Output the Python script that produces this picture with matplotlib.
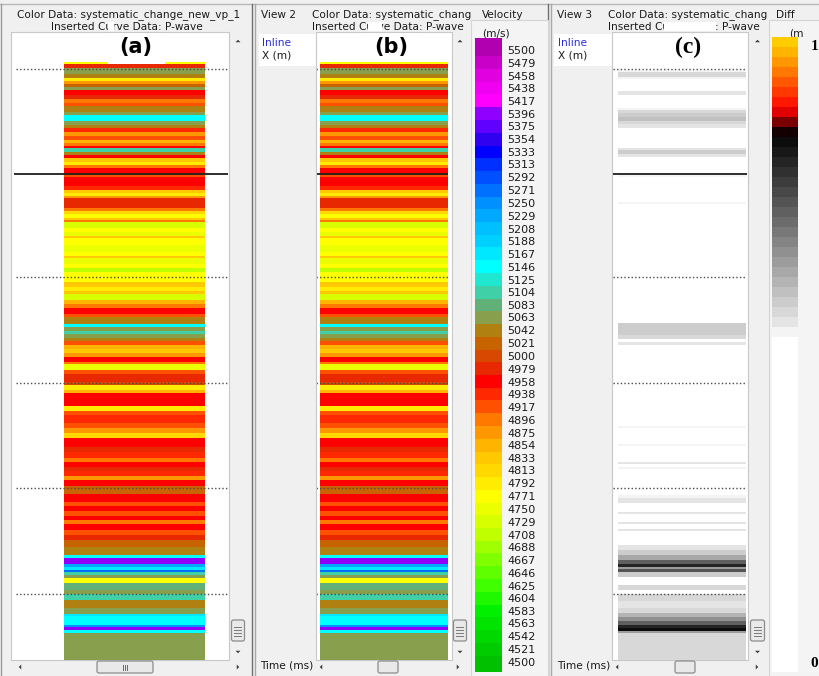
import numpy as np
import matplotlib
matplotlib.use("Agg")
import matplotlib.pyplot as plt
from matplotlib.colors import ListedColormap, BoundaryNorm
from matplotlib.patches import Rectangle, FancyBboxPatch, Polygon

# ---------------- data ----------------
# velocity colour scale (bottom -> top)
vel_tick_labels = ["4500", "4521", "4542", "4563", "4583", "4604", "4625", "4646", "4667",
                   "4688", "4708", "4729", "4750", "4771", "4792", "4813", "4833", "4854",
                   "4875", "4896", "4917", "4938", "4958", "4979", "5000", "5021", "5042",
                   "5063", "5083", "5104", "5125", "5146", "5167", "5188", "5208", "5229",
                   "5250", "5271", "5292", "5313", "5333", "5354", "5375", "5396", "5417",
                   "5438", "5458", "5479", "5500"]
vel_colors = ["#00C000", "#00CC00", "#00D800", "#00E400", "#00F000", "#20F800", "#40FF00",
              "#60FF00", "#80FF00", "#A0FF00", "#C0FF00", "#D8FF00", "#ECFF00", "#FFFF00",
              "#FFEC00", "#FFD800", "#FFC800", "#FFB400", "#FF9800", "#FF7800", "#FF5000",
              "#FF2800", "#FF0000", "#E82800", "#D84800", "#C86400", "#B08010", "#88A04E",
              "#60B078", "#40D0A8", "#20E8D0", "#00FFFF", "#00E8FF", "#00D0FF", "#00C0FF",
              "#00A8FF", "#0090FF", "#0070FF", "#0050FF", "#0030FF", "#0000FF", "#3000F0",
              "#6000FF", "#9000FF", "#FF00FF", "#F000F0", "#E000E0", "#C800C8", "#B000B0"]

# velocity log: layer boundaries (time) and P-wave velocity (m/s)
layer_bounds = [62, 64, 68, 74, 78, 81, 84, 87, 90, 95, 99, 103, 106, 112, 115, 121, 125, 128,
                132, 136, 140, 143, 146, 148, 152, 155, 158, 162, 165, 168, 173, 177, 186, 190,
                193, 196, 198, 208, 211, 214, 218, 220, 222, 228, 232, 236, 238, 245, 252, 256,
                258, 264, 268, 272, 276, 282, 287, 291, 294, 300, 304, 308, 314, 317, 324, 327,
                331, 334, 338, 341, 345, 349, 353, 357, 362, 364, 370, 374, 382, 385, 390, 393,
                400, 406, 411, 415, 423, 428, 433, 438, 447, 452, 458, 462, 467, 471, 476, 480,
                486, 494, 502, 506, 511, 516, 520, 524, 530, 535, 540, 547, 555, 558, 564, 567,
                570, 572, 575, 578, 583, 590, 594, 600, 608, 614, 616, 625, 627, 630, 633, 660]
layer_vp = [4771, 4979, 5063, 5042, 4792, 4875, 5021, 5063, 4958, 4979, 4896, 4917, 5042, 5063,
            5146, 5063, 5042, 4938, 4875, 4917, 4854, 4896, 4958, 5104, 5042, 4958, 4833, 4792,
            4896, 4958, 4917, 4958, 4938, 4833, 4792, 4875, 4979, 4896, 4813, 4771, 4833, 4896,
            4729, 4771, 4750, 4833, 4771, 4750, 4771, 4833, 4750, 4771, 4708, 4771, 4771, 4833,
            4792, 4833, 4729, 4854, 4896, 4958, 4917, 5042, 5146, 5063, 5104, 5063, 5042, 4917,
            4854, 4833, 4875, 4958, 4896, 4750, 4917, 4979, 5000, 4792, 4854, 4958, 4958, 4792,
            4917, 4938, 4917, 4875, 4813, 4958, 4979, 4938, 4896, 4958, 4979, 4938, 4875, 4958,
            5021, 4958, 4917, 4958, 4917, 4958, 4896, 4958, 4917, 4979, 5021, 5042, 5146, 5396,
            5229, 5167, 5271, 5104, 5063, 4771, 5083, 5063, 5104, 5042, 5063, 5167, 5146, 5250,
            5396, 5146, 5063]

# difference scale (value 0..1), colours for upper part; lower part is white
diff_tick_labels = ["0", "1"]
diff_colors = ["#F4F4F4", "#E4E4E4", "#D8D8D8", "#CCCCCC", "#C0C0C0", "#B4B4B4", "#A8A8A8",
               "#9C9C9C", "#909090", "#848484", "#787878", "#6C6C6C", "#606060", "#545454",
               "#484848", "#3C3C3C", "#303030", "#242424", "#181818", "#0C0C0C", "#140000",
               "#7A0000", "#E00000", "#FF1800", "#FF3800", "#FF5800", "#FF7800", "#FF9800",
               "#FFB400", "#FFCC00"]
diff_white_top = 0.527

diff_bounds = [62, 70, 72, 77, 79, 91, 95, 108, 110, 113, 117, 121, 124, 128, 148, 150, 154, 157,
               175, 177, 202, 204, 323, 335, 339, 342, 345, 426, 428, 444, 446, 462, 464, 467,
               469, 495, 498, 503, 512, 514, 522, 524, 529, 531, 545, 550, 555, 560, 564, 567,
               569, 572, 577, 585, 590, 594, 601, 608, 613, 617, 621, 625, 628, 631, 633, 660]
diff_vals = [0.0, 0.535, 0.56, 0.535, 0.0, 0.55, 0.0, 0.535, 0.567, 0.583, 0.598, 0.567,
             0.551, 0.0, 0.551, 0.583, 0.551, 0.0, 0.535, 0.0, 0.535, 0.0, 0.583, 0.567, 0.0,
             0.551, 0.0, 0.535, 0.0, 0.535, 0.0, 0.545, 0.0, 0.535, 0.0, 0.535, 0.551, 0.0,
             0.551, 0.0, 0.551, 0.0, 0.551, 0.0, 0.551, 0.583, 0.63, 0.73, 0.80, 0.65, 0.74,
             0.583, 0.0, 0.567, 0.0, 0.567, 0.551, 0.567, 0.614, 0.661, 0.72, 0.80, 0.835,
             0.65, 0.567]

marker_times = [69, 277, 383, 488, 594]
horizon_time = 174

# ---------------- figure ----------------
W, H = 820, 676
fig = plt.figure(figsize=(8.2, 6.76), dpi=100)
fig.patch.set_facecolor('#F0F0F0')


def px_axes(x0, y0, x1, y1, z=1):
    return fig.add_axes([x0 / W, 1 - y1 / H, (x1 - x0) / W, (y1 - y0) / H], zorder=z)


ui = px_axes(0, 0, W, H, z=0)
ui.set_xlim(0, W); ui.set_ylim(H, 0); ui.axis('off')
ov = px_axes(0, 0, W, H, z=5)
ov.set_xlim(0, W); ov.set_ylim(H, 0); ov.axis('off')

UIF = dict(fontsize=7.6, family='DejaVu Sans', color='#1A1A1A')


def rect(ax, x0, y0, x1, y1, fc, ec='none', lw=0.8, z=1):
    ax.add_patch(Rectangle((x0, y0), x1 - x0, y1 - y0, facecolor=fc, edgecolor=ec, lw=lw, zorder=z))


def tri(ax, cx, cy, d, s=3.0, c='#404040'):
    if d == 'up':
        pts = [(cx - s, cy + s / 2), (cx + s, cy + s / 2), (cx, cy - s / 2)]
    elif d == 'down':
        pts = [(cx - s, cy - s / 2), (cx + s, cy - s / 2), (cx, cy + s / 2)]
    elif d == 'left':
        pts = [(cx + s / 2, cy - s), (cx + s / 2, cy + s), (cx - s / 2, cy)]
    else:
        pts = [(cx - s / 2, cy - s), (cx - s / 2, cy + s), (cx + s / 2, cy)]
    ax.add_patch(Polygon(pts, closed=True, facecolor=c, edgecolor='none', zorder=3))


def vscroll(ax, x0, x1):
    cx = (x0 + x1) / 2
    tri(ax, cx, 41, 'up', 2.5)
    ax.add_patch(FancyBboxPatch((x0 + 1.5, 620), x1 - x0 - 3, 21, boxstyle='round,pad=0,rounding_size=2',
                                facecolor='#E9E9E9', edgecolor='#8C8C8C', lw=0.9, zorder=3))
    for yy in (626.5, 629.5, 632.5, 635.5):
        ax.plot([cx - 3.5, cx + 3.5], [yy, yy], color='#7A7A7A', lw=0.7, zorder=4)
    tri(ax, cx, 652, 'down', 2.5)


def hscroll(ax, xl, xr, t0, t1, grip=False):
    tri(ax, xl, 667, 'left', 2.5)
    tri(ax, xr, 667, 'right', 2.5)
    ax.add_patch(FancyBboxPatch((t0, 661), t1 - t0, 12, boxstyle='round,pad=0,rounding_size=2',
                                facecolor='#E9E9E9', edgecolor='#8C8C8C', lw=0.9, zorder=3))
    if grip:
        c = (t0 + t1) / 2
        for xx in (c - 2, c, c + 2):
            ax.plot([xx, xx], [664.5, 669.5], color='#6A6A6A', lw=0.7, zorder=4)


# frame lines
ui.plot([0, W], [3.5, 3.5], color='#B8B8B8', lw=1)
for xx, c in ((1.5, '#9A9A9A'), (252.5, '#6E6E6E'), (255.5, '#A8A8A8'),
              (548.5, '#6E6E6E'), (551.5, '#A8A8A8')):
    ui.plot([xx, xx], [4, H], color=c, lw=1)

# ---------- panel frames ----------
# panel a
rect(ui, 11, 32, 229, 660, 'white', '#C8C8C8', 0.8)
ui.text(129, 15, "Color Data: systematic_change_new_vp_1", ha='center', va='center', **UIF)
ui.text(127, 27, "Inserted Curve Data: P-wave", ha='center', va='center', **UIF)
vscroll(ui, 230, 246)
hscroll(ui, 20, 238, 97, 153, grip=True)

# panel b
rect(ui, 259, 34, 316, 66, 'white')
ui.text(261, 15, "View 2", ha='left', va='center', **UIF)
ui.text(262, 43, "Inline", ha='left', va='center', fontsize=7.6, color='#2A2AE0')
ui.text(262, 56, "X (m)", ha='left', va='center', **UIF)
ui.text(312, 15, "Color Data: systematic_chang", ha='left', va='center', **UIF)
ui.text(312, 27, "Inserted Curve Data: P-wave", ha='left', va='center', **UIF)
rect(ui, 316, 32, 452, 660, 'white', '#C8C8C8', 0.8)
vscroll(ui, 452, 468)
ui.text(260, 666, "Time (ms)", ha='left', va='center', **UIF)
hscroll(ui, 321, 458, 378, 398)

# panel c
rect(ui, 554, 34, 612, 66, 'white')
ui.text(557, 15, "View 3", ha='left', va='center', **UIF)
ui.text(558, 43, "Inline", ha='left', va='center', fontsize=7.6, color='#2A2AE0')
ui.text(558, 56, "X (m)", ha='left', va='center', **UIF)
ui.text(608, 15, "Color Data: systematic_chang", ha='left', va='center', **UIF)
ui.text(608, 27, "Inserted Curve Data: P-wave", ha='left', va='center', **UIF)
rect(ui, 612, 32, 748, 660, 'white', '#C8C8C8', 0.8)
vscroll(ui, 749, 766)
ui.text(557, 666, "Time (ms)", ha='left', va='center', **UIF)
hscroll(ui, 617, 757, 675, 695)

# colour-bar side panels
rect(ov, 471, 20, 548, H, '#F4F4F4', '#D4D4D4', 0.8)
ov.text(482, 15, "Velocity", ha='left', va='center', **UIF)
ov.text(496, 34, "(m/s)", ha='center', va='center', **UIF)
rect(ov, 769, 20, W, H, '#F4F4F4', '#D4D4D4', 0.8)
ov.text(776, 15, "Diff", ha='left', va='center', **UIF)
ov.text(789, 33, "(m", ha='left', va='center', **UIF)

# label boxes
rect(ov, 108, 33, 165, 64, 'white', z=2)
rect(ov, 108, 22, 114, 31, 'white', z=2)
ov.text(136, 47, "(a)", ha='center', va='center', fontsize=15, fontweight='bold',
        family='DejaVu Sans', color='black', zorder=3)
rect(ov, 368, 22, 382, 31, 'white', z=2)
rect(ov, 362, 33, 420, 62, 'white', z=2)
ov.text(391, 47, "(b)", ha='center', va='center', fontsize=15, fontweight='bold',
        family='DejaVu Sans', color='black', zorder=3)
rect(ov, 664, 22, 716, 31, 'white', z=2)
ov.text(688, 47, "(c)", ha='center', va='center', fontsize=17, fontweight='bold',
        family='Liberation Serif', color='black', zorder=3)

# ---------- colour maps ----------
vel_levels = np.array([int(s) for s in vel_tick_labels], dtype=float)
vel_lo, vel_hi = vel_levels[0] - 16.3, vel_levels[-1] + 19.6
vel_edges = np.concatenate([[vel_lo], (vel_levels[:-1] + vel_levels[1:]) / 2, [vel_hi]])
vel_cmap = ListedColormap(vel_colors)
vel_norm = BoundaryNorm(vel_edges, vel_cmap.N)

n_d = len(diff_colors)
diff_edges = np.concatenate([[0.0], diff_white_top + (1 - diff_white_top) * np.arange(n_d + 1) / n_d])
diff_cmap = ListedColormap(['#FFFFFF'] + diff_colors)
diff_norm = BoundaryNorm(diff_edges, diff_cmap.N)

lb = np.array(layer_bounds, dtype=float)
vp = np.array(layer_vp, dtype=float)
db = np.array(diff_bounds, dtype=float)
dv = np.array(diff_vals, dtype=float)


def log_axes(x0, x1, col0, col1, bounds, vals, cmap, norm, dot0, dot1, hz0, hz1):
    ax = px_axes(x0, 33, x1, 660, z=1)
    ax.set_xlim(x0, x1)
    ax.set_ylim(660, 33)
    ax.pcolormesh([col0, col1], bounds, vals[:, None], cmap=cmap, norm=norm,
                  shading='flat', antialiased=False)
    ax.hlines(marker_times, dot0, dot1, colors='#4A4A4A', linestyles=(0, (1, 1.6)), lw=1.0)
    ax.hlines([horizon_time], hz0, hz1, colors='#1E1E1E', lw=1.3)
    ax.set_axis_off()
    return ax


log_axes(12, 228, 64, 205, lb, vp, vel_cmap, vel_norm, 16, 228, 14, 228)
log_axes(317, 451, 320, 448, lb, vp, vel_cmap, vel_norm, 316, 448, 316, 448)
log_axes(613, 747, 618, 746, db, dv, diff_cmap, diff_norm, 613, 746, 612, 747)

# velocity colour bar
cb = px_axes(475, 38, 502, 672, z=6)
cb.pcolormesh([0, 1], vel_edges, vel_levels[:, None], cmap=vel_cmap, norm=vel_norm,
              shading='flat', antialiased=False)
cb.set_xlim(0, 1); cb.set_ylim(vel_lo, vel_hi)
cb.set_xticks([])
cb.yaxis.tick_right()
cb.set_yticks(vel_levels)
cb.set_yticklabels(vel_tick_labels)
cb.tick_params(axis='y', length=0, pad=4, labelsize=8, labelcolor='#1A1A1A')
for s in cb.spines.values():
    s.set_visible(False)

# diff colour bar
db_ax = px_axes(772, 37, 798, 672, z=6)
diff_mid = (diff_edges[:-1] + diff_edges[1:]) / 2
db_ax.pcolormesh([0, 1], diff_edges, diff_mid[:, None], cmap=diff_cmap, norm=diff_norm,
                 shading='flat', antialiased=False)
db_ax.set_xlim(0, 1); db_ax.set_ylim(0, 1)
db_ax.set_xticks([])
db_ax.yaxis.tick_right()
db_ax.set_yticks([0.015, 0.987])
db_ax.set_yticklabels(diff_tick_labels)
db_ax.tick_params(axis='y', length=0, pad=9, labelsize=11)
for lab in db_ax.get_yticklabels():
    lab.set_fontfamily('Liberation Serif'); lab.set_fontweight('bold')
for s in db_ax.spines.values():
    s.set_visible(False)

fig.savefig("out.png", dpi=100, facecolor=fig.get_facecolor())
